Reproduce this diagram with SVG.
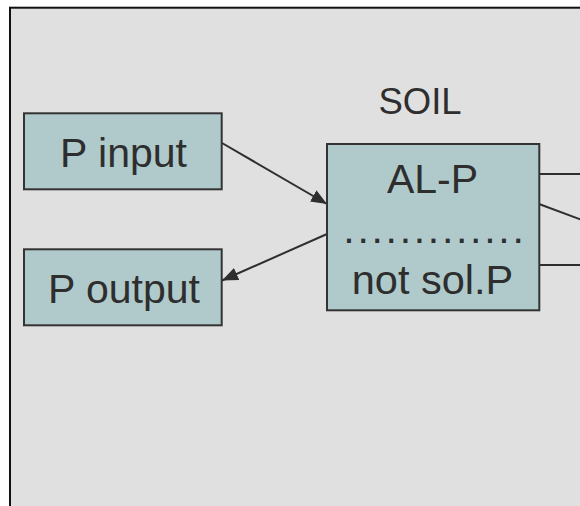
<svg xmlns="http://www.w3.org/2000/svg" width="580" height="506" viewBox="0 0 580 506">
<style>
.box{fill:#b0cacb;stroke:#333;stroke-width:2}
.t{font-family:"Liberation Sans",Arial,sans-serif;fill:#2e2e2e;text-anchor:middle}
.c{stroke:#2e2e2e;stroke-width:2;fill:none}
</style>
<defs>
<marker id="ah" viewBox="0 0 16 13" refX="16" refY="6.5" markerWidth="16" markerHeight="13" markerUnits="userSpaceOnUse" orient="auto">
<path d="M0,0 L16,6.5 L0,13 Z" fill="#2e2e2e"/>
</marker>
</defs>
<rect x="0" y="0" width="580" height="506" fill="#fff"/>
<rect x="10" y="7.7" width="590" height="520" fill="#e0e0e0" stroke="#111" stroke-width="2"/>
<text class="t" x="420" y="114" font-size="36.5">SOIL</text>
<g id="connectors">
<line class="c" x1="222" y1="143" x2="327" y2="204" marker-end="url(#ah)"/>
<line class="c" x1="327" y1="234" x2="222" y2="280.5" marker-end="url(#ah)"/>
<line class="c" x1="539" y1="174" x2="582" y2="174"/>
<line class="c" x1="539" y1="204" x2="582" y2="220"/>
<line class="c" x1="539" y1="265" x2="582" y2="265"/>
</g>
<g id="p-input">
<rect class="box" x="24" y="113.3" width="197.7" height="76"/>
<text class="t" x="123.5" y="166.7" font-size="41">P input</text>
</g>
<g id="p-output">
<rect class="box" x="24" y="249.3" width="197.7" height="76"/>
<text class="t" x="124" y="302.7" font-size="41">P output</text>
</g>
<g id="soil">
<rect class="box" x="327" y="144" width="212.3" height="166.3"/>
<text class="t" x="432.5" y="192.7" font-size="41">AL-P</text>
<text class="t" x="343.3" y="242.7" font-size="41" letter-spacing="2.7" style="text-anchor:start">.............</text>
<text class="t" x="432.5" y="294.3" font-size="41.5">not sol.P</text>
</g>
</svg>
